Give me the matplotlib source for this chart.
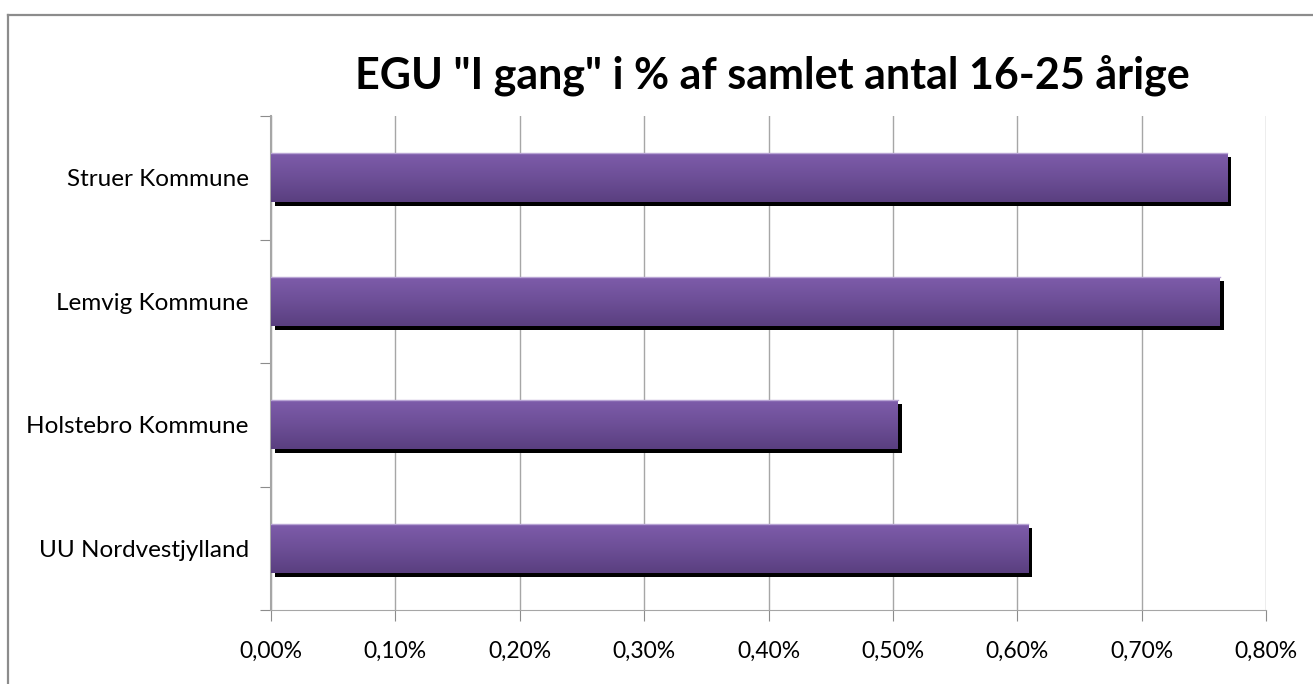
import matplotlib
matplotlib.use("Agg")
import matplotlib.pyplot as plt
import numpy as np
from matplotlib.colors import LinearSegmentedColormap
from matplotlib.transforms import ScaledTranslation
from matplotlib.lines import Line2D

# data (percent of 16-25 year olds)
kommuner = ["UU Nordvestjylland", "Holstebro Kommune", "Lemvig Kommune", "Struer Kommune"]
andel = [0.609, 0.504, 0.763, 0.769]
xticks = [0.0, 0.1, 0.2, 0.3, 0.4, 0.5, 0.6, 0.7, 0.8]

plt.rcParams['font.family'] = ['Lato', 'DejaVu Sans']

fig = plt.figure(figsize=(13.13, 6.84), dpi=100)
ax = fig.add_axes([271/1313, 1 - 610/684, 995/1313, 494/684])

# outer chart border (only top and left show in the crop)
bx, by = 8/1313, 1 - 15/684
fig.lines.append(Line2D([bx, 1.0], [by, by], transform=fig.transFigure, color='#8c8c8c', lw=1.6))
fig.lines.append(Line2D([bx, bx], [0, by], transform=fig.transFigure, color='#8c8c8c', lw=1.6))

pos = np.arange(len(kommuner))
h = 0.4

# shadow
shadow = ax.barh(pos, andel, height=h, color='black', zorder=2)
off = ScaledTranslation(4/100, -4/100, fig.dpi_scale_trans)
for b in shadow:
    b.set_transform(ax.transData + off)

bars = ax.barh(pos, andel, height=h, color='#6e4f98', zorder=3)

# vertical gradient in every bar
cmap = LinearSegmentedColormap.from_list('lilla', ['#5a3f80', '#6d4f97', '#7e5cab'])
grad = np.linspace(0, 1, 100).reshape(-1, 1)
for b, p, v in zip(bars, pos, andel):
    im = ax.imshow(grad, cmap=cmap, aspect='auto', origin='lower',
                   extent=(0, v, p - h/2, p + h/2), zorder=4)
    im.set_clip_path(b)
    ax.plot([0, v], [p + h/2, p + h/2], color='#b8a4d4', lw=1, zorder=5)

ax.set_xlim(0, 0.8)
ax.set_ylim(-0.5, 3.5)
ax.set_xticks(xticks)
ax.set_xticklabels([f"{t:.2f}%".replace('.', ',') for t in xticks], fontsize=16.5)
ax.set_yticks(np.arange(-0.5, 4, 1))
ax.set_yticklabels([])
ax.set_yticks(pos, minor=True)
ax.set_yticklabels(kommuner, minor=True, fontsize=17.5)
ax.tick_params(axis='y', which='minor', length=0, pad=16)
ax.tick_params(axis='y', which='major', length=8, color='#8c8c8c')
ax.tick_params(axis='x', length=8, color='#8c8c8c', pad=14)

ax.grid(axis='x', color='#a6a6a6', lw=1, zorder=0)
ax.set_axisbelow(True)
for s in ['top', 'right']:
    ax.spines[s].set_visible(False)
ax.spines['left'].set_color('#a6a6a6')
ax.spines['bottom'].set_color('#a6a6a6')
ax.spines['left'].set_linewidth(1.5)

fig.text(772/1313, 1 - 75/684, 'EGU "I gang" i % af samlet antal 16-25 årige',
         ha='center', va='center', fontsize=31, fontweight='bold')

fig.savefig("out.png", dpi=100)
